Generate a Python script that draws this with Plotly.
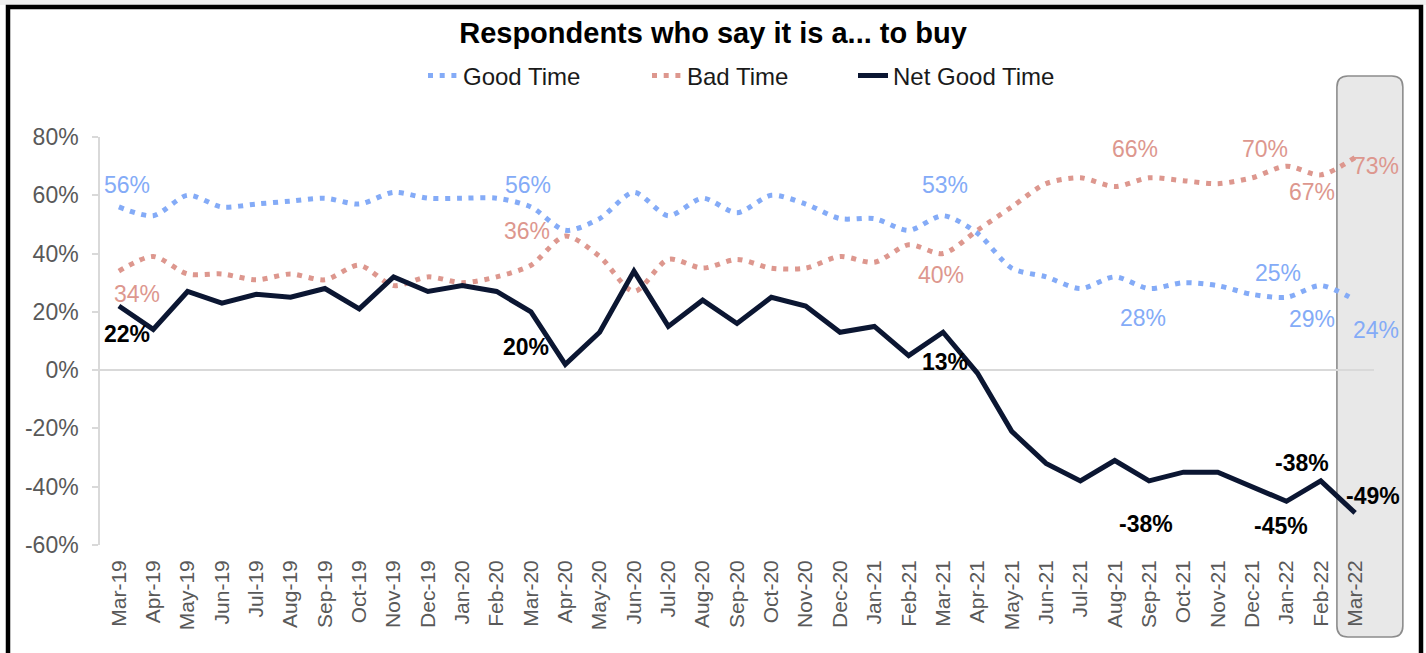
import plotly.graph_objects as go

# ---------------- data ----------------
months = ["Mar-19", "Apr-19", "May-19", "Jun-19", "Jul-19", "Aug-19", "Sep-19", "Oct-19",
          "Nov-19", "Dec-19", "Jan-20", "Feb-20", "Mar-20", "Apr-20", "May-20", "Jun-20",
          "Jul-20", "Aug-20", "Sep-20", "Oct-20", "Nov-20", "Dec-20", "Jan-21", "Feb-21",
          "Mar-21", "Apr-21", "May-21", "Jun-21", "Jul-21", "Aug-21", "Sep-21", "Oct-21",
          "Nov-21", "Dec-21", "Jan-22", "Feb-22", "Mar-22"]

good_time = [56, 53, 60, 56, 57, 58, 59, 57, 61, 59, 59, 59, 56, 48, 52, 61, 53, 59, 54, 60,
             57, 52, 52, 48, 53, 47, 35, 32, 28, 32, 28, 30, 29, 26, 25, 29, 24]
bad_time = [34, 39, 33, 33, 31, 33, 31, 36, 29, 32, 30, 32, 36, 46, 39, 27, 38, 35, 38, 35,
            35, 39, 37, 43, 40, 48, 56, 64, 66, 63, 66, 65, 64, 66, 70, 67, 73]
net_good_time = [22, 14, 27, 23, 26, 25, 28, 21, 32, 27, 29, 27, 20, 2, 13, 34, 15, 24, 16, 25,
                 22, 13, 15, 5, 13, -1, -21, -32, -38, -31, -38, -35, -35, -40, -45, -38, -49]

y_tick_values = [-60, -40, -20, 0, 20, 40, 60, 80]
y_tick_labels = ["-60%", "-40%", "-20%", "0%", "20%", "40%", "60%", "80%"]

# which points carry a data label (indices into months)
good_label_idx = [0, 12, 24, 30, 34, 35, 36]
bad_label_idx = [0, 12, 24, 30, 34, 35, 36]
net_label_idx = [0, 12, 24, 30, 34, 35, 36]

# ---------------- style ----------------
C_GOOD = "#84abf7"
C_BAD = "#dd978e"
C_NET = "#0b1632"
FONT = "Liberation Sans, Arial, sans-serif"

# pixel offsets (dx, dy up) of each label relative to its point
good_off = [(8, 22), (-3, 22), (2, 31), (-6, -29), (-8, 24), (-9, -33), (21, -30)]
bad_off = [(18, -23), (-4, 34), (-2, -21), (-14, 29), (-21, 17), (-9, -17), (21, -9)]
net_off = [(8, -28), (-5, -35), (2, -30), (-3, -43), (-5, -25), (-19, 18), (18, 17)]

W, H = 1426, 653
ML, MR, MT, MB = 100, 52, 137, 108
X_RANGE = [-0.55, len(months) - 1 + 0.55]
Y_RANGE = [-60, 80]
plot_w = W - ML - MR
plot_h = H - MT - MB


def px_to_paper_x(px):
    return (px - ML) / plot_w


def px_to_paper_y(py):
    return (H - MB - py) / plot_h


def idx_to_paper_x(i):
    return (i - X_RANGE[0]) / (X_RANGE[1] - X_RANGE[0])


fig = go.Figure()
xs = list(range(len(months)))

DOT = "5px,6.7px"
fig.add_trace(go.Scatter(
    x=xs, y=good_time, name="Good Time", mode="lines",
    line=dict(color=C_GOOD, width=5, dash=DOT, shape="spline", smoothing=0.8),
    legendwidth=179, hoverinfo="skip"))
fig.add_trace(go.Scatter(
    x=xs, y=bad_time, name="Bad Time", mode="lines",
    line=dict(color=C_BAD, width=5, dash=DOT, shape="spline", smoothing=0.8),
    legendwidth=161, hoverinfo="skip"))
fig.add_trace(go.Scatter(
    x=xs, y=net_good_time, name="Net Good Time", mode="lines",
    line=dict(color=C_NET, width=5),
    legendwidth=165, hoverinfo="skip"))

annotations = []


def add_labels(values, idxs, offs, color, bold):
    for i, (dx, dy) in zip(idxs, offs):
        v = values[i]
        txt = f"{v}%"
        if bold:
            txt = f"<b>{txt}</b>"
        annotations.append(dict(
            x=i, y=v, xref="x", yref="y", text=txt, showarrow=False,
            xanchor="center", yanchor="middle", xshift=dx, yshift=dy,
            font=dict(family=FONT, size=23, color=color)))


add_labels(good_time, good_label_idx, good_off, C_GOOD, False)
add_labels(bad_time, bad_label_idx, bad_off, C_BAD, False)
add_labels(net_good_time, net_label_idx, net_off, "#000000", True)

# highlight box around last month
last = len(months) - 1
bx0 = idx_to_paper_x(last - 0.53)
bx1 = idx_to_paper_x(last + 1.39)
by0 = px_to_paper_y(637)
by1 = px_to_paper_y(76)
rx = 11 / plot_w
ry = 11 / plot_h
box_path = (f"M{bx0 + rx},{by1} L{bx1 - rx},{by1} Q{bx1},{by1} {bx1},{by1 - ry} "
            f"L{bx1},{by0 + ry} Q{bx1},{by0} {bx1 - rx},{by0} "
            f"L{bx0 + rx},{by0} Q{bx0},{by0} {bx0},{by0 + ry} "
            f"L{bx0},{by1 - ry} Q{bx0},{by1} {bx0 + rx},{by1} Z")

shapes = [
    # light strip at very top
    dict(type="rect", xref="paper", yref="paper",
         x0=px_to_paper_x(-2), x1=px_to_paper_x(W + 2), y0=px_to_paper_y(5), y1=px_to_paper_y(-2),
         fillcolor="#f0f0f0", line=dict(width=0), layer="below"),
    # outer black frame
    dict(type="rect", xref="paper", yref="paper",
         x0=px_to_paper_x(8), x1=px_to_paper_x(1421), y0=px_to_paper_y(H + 20), y1=px_to_paper_y(7),
         fillcolor="rgba(0,0,0,0)", line=dict(color="#000000", width=4.5), layer="above"),
    dict(type="path", xref="paper", yref="paper", path=box_path,
         fillcolor="#e8e8e8", line=dict(color="#8c8c8c", width=1.6), layer="below"),
]

fig.update_layout(
    width=W, height=H,
    margin=dict(l=ML, r=MR, t=MT, b=MB),
    paper_bgcolor="white", plot_bgcolor="rgba(0,0,0,0)",
    font=dict(family=FONT, color="#595959"),
    title=dict(text="<b>Respondents who say it is a... to buy</b>",
               xref="container", x=0.5, xanchor="center",
               yref="container", y=1 - 33 / H, yanchor="middle",
               font=dict(family=FONT, size=29, color="#000000")),
    legend=dict(orientation="h", xref="container", yref="container",
                x=423 / W, xanchor="left", y=1 - 76 / H, yanchor="middle",
                font=dict(family=FONT, size=24, color="#1a1a1a"),
                bgcolor="rgba(0,0,0,0)", itemwidth=30),
    xaxis=dict(type="linear", range=X_RANGE, tickmode="array", tickvals=xs, ticktext=months,
               tickangle=-90, showgrid=False, zeroline=False, showline=False, ticks="",
               tickfont=dict(family=FONT, size=21, color="#595959"),
               ticklabelstandoff=10),
    yaxis=dict(range=Y_RANGE, tickmode="array", tickvals=y_tick_values, ticktext=y_tick_labels,
               showgrid=False, zeroline=True, zerolinecolor="#d9d9d9", zerolinewidth=1.5,
               showline=True, linecolor="#d9d9d9", linewidth=1.5,
               ticks="outside", ticklen=6, tickcolor="#d9d9d9", tickwidth=1.5,
               tickfont=dict(family=FONT, size=23, color="#595959"),
               ticklabelstandoff=9),
    shapes=shapes,
    annotations=annotations,
    showlegend=True,
)

fig.write_html("out.html", config={"displayModeBar": False})
